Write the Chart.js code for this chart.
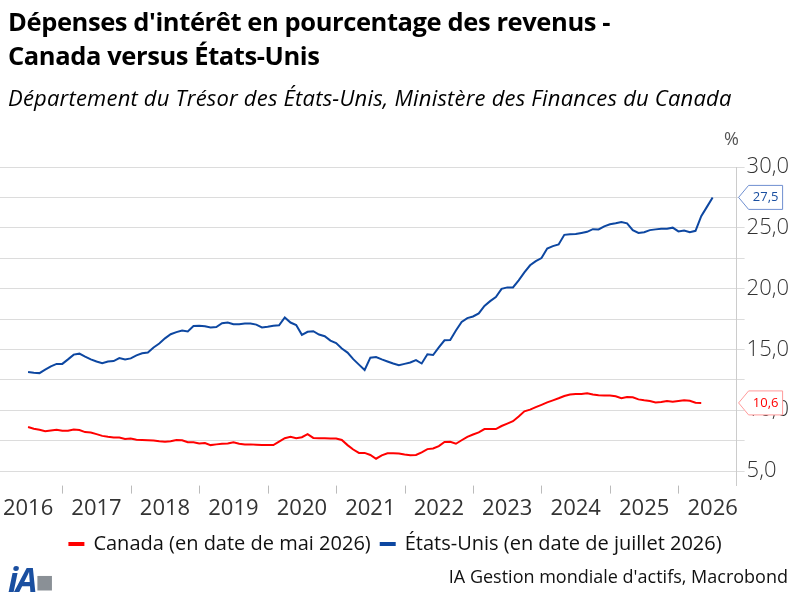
<!DOCTYPE html>
<html>
<head>
<meta charset="utf-8">
<script src="https://cdn.jsdelivr.net/npm/chart.js@4.4.1/dist/chart.umd.min.js"></script>
<style>
body{margin:0;width:800px;height:600px;overflow:hidden;background:#fff;font-family:"Open Sans",sans-serif;}
#wrap{position:absolute;left:0;top:0;width:800px;height:600px;}
.t{position:absolute;white-space:nowrap;color:#000;}
</style>
</head>
<body>
<div id="wrap"><canvas id="c" width="800" height="600"></canvas></div>
<div class="t" style="left:8px;top:4px;font-size:25.5px;font-weight:bold;line-height:34px;letter-spacing:-0.4px">Dépenses d'intérêt en pourcentage des revenus -<br>Canada versus États-Unis</div>
<div class="t" style="left:8px;top:82px;font-size:22px;font-style:italic;letter-spacing:0.2px">Département du Trésor des États-Unis, Ministère des Finances du Canada</div>
<div class="t" style="left:724px;top:126px;font-size:18px;color:#555">%</div>
<div class="t" style="left:8px;top:556px;font-size:34px;font-weight:bold;font-style:italic;color:#1a4fa0;letter-spacing:-2px">iA<span style="color:#8a9096;font-style:normal;font-size:30px">&#9632;</span></div>
<div class="t" style="right:12px;top:564px;font-size:18px;color:#111">IA Gestion mondiale d'actifs, Macrobond</div>
<script>
// mois de juillet 2016 à juillet 2026
var startYear = 2016.5;
var yearLabels = ["2016","2017","2018","2019","2020","2021","2022","2023","2024","2025","2026"];

var usa = [13.14,13.08,13.05,13.33,13.61,13.81,13.81,14.18,14.57,14.65,14.4,14.18,14.01,13.87,14.01,14.04,14.29,14.18,14.26,14.51,
14.68,14.74,15.16,15.49,15.91,16.25,16.42,16.56,16.48,16.92,16.95,16.9,16.81,16.84,17.15,17.21,17.07,17.07,17.12,17.12,
17.04,16.81,16.87,16.95,16.98,17.63,17.21,17.01,16.2,16.45,16.5,16.22,16.08,15.72,15.52,15.07,14.74,14.2,13.75,13.31,
14.32,14.37,14.18,14.01,13.84,13.7,13.81,13.92,14.12,13.84,14.6,14.54,15.16,15.75,15.78,16.56,17.26,17.57,17.71,17.96,
18.58,18.97,19.31,19.98,20.1,20.1,20.68,21.33,21.92,22.26,22.51,23.29,23.49,23.63,24.42,24.47,24.5,24.58,24.67,24.89,
24.87,25.12,25.29,25.37,25.48,25.37,24.81,24.58,24.64,24.81,24.87,24.92,24.92,25.01,24.7,24.78,24.64,24.75,25.96,26.72,27.5];

var canada = [8.62,8.48,8.4,8.28,8.34,8.4,8.31,8.31,8.42,8.37,8.2,8.17,8.03,7.89,7.81,7.75,7.75,7.64,7.67,7.58,
7.55,7.53,7.5,7.44,7.41,7.44,7.55,7.53,7.36,7.36,7.27,7.3,7.13,7.19,7.24,7.27,7.36,7.24,7.19,7.19,
7.16,7.13,7.13,7.13,7.41,7.7,7.81,7.7,7.78,8.03,7.72,7.7,7.7,7.67,7.67,7.55,7.13,6.77,6.49,6.49,
6.32,6.01,6.29,6.46,6.46,6.43,6.35,6.29,6.32,6.54,6.8,6.85,7.05,7.39,7.41,7.24,7.53,7.81,8.0,8.17,
8.45,8.45,8.45,8.7,8.9,9.1,9.49,9.91,10.05,10.25,10.44,10.64,10.81,10.98,11.17,11.29,11.34,11.34,11.4,11.29,
11.23,11.2,11.2,11.15,10.98,11.09,11.06,10.89,10.81,10.75,10.64,10.67,10.75,10.7,10.75,10.81,10.78,10.61,10.6];

function pts(arr){ return arr.map(function(v,i){ return {x: startYear + i/12, y: v}; }); }
function fmt(v){ return v.toFixed(1).replace(".", ","); }

var extras = {
  id: "extras",
  afterDraw: function(chart){
    var ctx = chart.ctx, xs = chart.scales.x, ys = chart.scales.y, a = chart.chartArea;
    ctx.save();
    // tick marks at year boundaries
    ctx.strokeStyle = "#bbb"; ctx.lineWidth = 1;
    for (var y = 2017; y <= 2026; y++){
      var px = Math.round(xs.getPixelForValue(y)) + 0.5;
      ctx.beginPath(); ctx.moveTo(px, a.bottom); ctx.lineTo(px, a.bottom + 8); ctx.stroke();
    }
    // last value tags
    var tags = [[usa, "#1a4fa0", "#6f8fd0"], [canada, "#ff0000", "#ff9a9a"]];
    ctx.font = "13px 'Open Sans'";
    tags.forEach(function(t){
      var v = t[0][t[0].length - 1];
      var py = ys.getPixelForValue(v);
      var x0 = a.right + 2, w = 44, h = 24;
      ctx.fillStyle = "#fff"; ctx.strokeStyle = t[2];
      ctx.beginPath();
      ctx.moveTo(x0, py); ctx.lineTo(x0 + 10, py - h/2); ctx.lineTo(x0 + w, py - h/2);
      ctx.lineTo(x0 + w, py + h/2); ctx.lineTo(x0 + 10, py + h/2); ctx.closePath();
      ctx.fill(); ctx.stroke();
      ctx.fillStyle = t[1]; ctx.textAlign = "center"; ctx.textBaseline = "middle";
      ctx.fillText(fmt(v), x0 + 27, py);
    });
    ctx.restore();
  }
};

new Chart(document.getElementById("c"), {
  type: "line",
  data: {
    datasets: [
      { label: "Canada (en date de mai 2026)", data: pts(canada), borderColor: "#ff0000", backgroundColor: "#ff0000", borderWidth: 2, pointRadius: 0, tension: 0 },
      { label: "États-Unis (en date de juillet 2026)", data: pts(usa), borderColor: "#0d47a1", backgroundColor: "#0d47a1", borderWidth: 2, pointRadius: 0, tension: 0 }
    ]
  },
  options: {
    responsive: false, animation: false,
    layout: { padding: { top: 167, left: 0, right: 9, bottom: 36 } },
    plugins: {
      legend: {
        position: "bottom",
        labels: { boxWidth: 14, boxHeight: 2, color: "#111", font: { size: 20, family: "Open Sans" }, padding: 10 }
      },
      tooltip: { enabled: false }
    },
    scales: {
      x: {
        type: "linear", min: 2016.09, max: 2026.85,
        afterBuildTicks: function(s){ s.ticks = yearLabels.map(function(l){ return { value: +l + 0.5 }; }); },
        ticks: { autoSkip: false, maxRotation: 0, color: "#333", font: { size: 22, family: "Open Sans" }, padding: 2,
          callback: function(v){ return String(Math.floor(v)); } },
        grid: { display: false },
        border: { display: false }
      },
      y: {
        position: "right", min: 3.8, max: 30,
        afterBuildTicks: function(s){ var t = []; for (var v = 5; v <= 30; v += 2.5) t.push({ value: v }); s.ticks = t; },
        ticks: { color: "#333", font: { size: 22, family: "Open Sans", weight: "300" }, padding: 2,
          callback: function(v){ return v % 5 === 0 ? fmt(v) : ""; } },
        grid: { color: "#dcdcdc", tickLength: 8 },
        border: { color: "#ccc" }
      }
    }
  },
  plugins: [extras]
});
</script>
</body>
</html>
